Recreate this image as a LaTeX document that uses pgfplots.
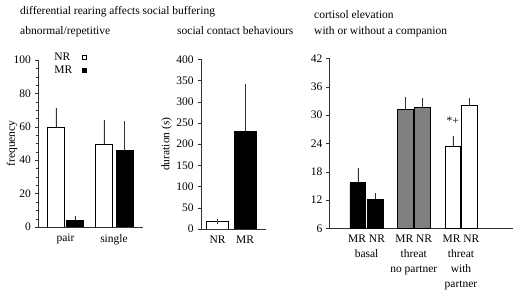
\documentclass[border=0pt]{standalone}
\usepackage{pgfplots}
\pgfplotsset{compat=1.18}
\usepackage{fontspec}
\setmainfont{Liberation Serif}
\begin{document}
\fontsize{11.5}{14}\selectfont
\begin{tikzpicture}[x=1pt,y=1pt]
\path[use as bounding box] (0,0) rectangle (515,292);
\pgfplotsset{
  myax/.style={scale only axis, anchor=south west,
    axis lines=left, axis line style={-, black!80},
    tick align=outside, tick style={black!80},
    major tick length=3pt, minor tick length=1.5pt,
    xtick style={draw=none},
    /pgf/number format/assume math mode=true,
    ticklabel style={font=\fontsize{11.5}{14}\selectfont},
    label style={font=\fontsize{11.5}{14}\selectfont},
  },
  mybar/.style={ybar, bar shift=0pt, draw=black, fill=#1,
    error bars/y dir=plus, error bars/y explicit, error bars/error mark=none,
    error bars/error bar style={black!80}},
}
% ---- panel 1
\begin{axis}[myax, at={(38pt,65pt)}, width=105pt, height=167pt,
  xmin=0, xmax=105, ymin=0, ymax=100,
  ytick={0,20,...,100}, minor y tick num=3,
  xtick={27.5,76}, xticklabels={pair,single},
  ylabel={frequency},
  ylabel style={at={(axis description cs:-0.248,0.5)}, anchor=center},
  legend image code/.code={\draw[#1,draw=black] (0pt,-2pt) rectangle (4pt,2pt);},
  legend plot pos=right,
  legend style={draw=none, fill=none, at={(axis description cs:0.12,1.06)}, anchor=north west,
    nodes={inner sep=0.5pt, font=\fontsize{11.5}{14}\selectfont}, column sep=9pt, row sep=3pt},
  legend cell align=left]
\addplot[mybar=white, bar width=17] coordinates {(18,60) +- (0,11) (66,49.4) +- (0,14.4)};
\addplot[mybar=black, bar width=17] coordinates {(37,4) +- (0,2.3) (86.5,45.8) +- (0,17.7)};
\legend{NR,MR}
\end{axis}
% ---- panel 2
\begin{axis}[myax, at={(200.7pt,63pt)}, width=65pt, height=169.7pt,
  xmin=0, xmax=65, ymin=0, ymax=400,
  ytick={0,50,...,400},
  xtick={16.8,44.3}, xticklabels={NR,MR},
  ylabel={duration (s)},
  ylabel style={at={(axis description cs:-0.526,0.5)}, anchor=center}]
\addplot[mybar=white, bar width=22, error bars/y dir=both] coordinates {(16.8,18) +- (0,6)};
\addplot[mybar=black, bar width=22] coordinates {(44.3,230) +- (0,111)};
\end{axis}
% ---- panel 3
\begin{axis}[myax, at={(329.3pt,63.7pt)}, width=184pt, height=170pt,
  xmin=0, xmax=184, ymin=6, ymax=42,
  ytick={6,12,...,42},
  xtick={37.3,84.5,131.7},
  xticklabels={{MR NR\\basal},{MR NR\\threat\\no partner},{MR NR\\threat\\with\\partner}},
  xticklabel style={align=center, font=\fontsize{11.5}{15}\selectfont}]
\addplot[mybar=black, bar width=15.7] coordinates {(28.5,15.7) +- (0,3.0) (46.2,12.1) +- (0,1.3)};
\addplot[mybar=black!50, bar width=15.7] coordinates {(76,31.2) +- (0,2.5) (92.9,31.55) +- (0,2.0)};
\addplot[mybar=white, bar width=15.7] coordinates {(123.5,23.4) +- (0,2.2) (139.9,32.0) +- (0,1.5)};
\node[font=\fontsize{11.5}{14}\selectfont] at (axis cs:123.5,28.7) {*+};
\end{axis}
% ---- titles
\begin{scope}[every node/.style={inner sep=0pt, anchor=base west}]
\node at (20,277) {differential rearing affects social buffering};
\node at (20,257) {abnormal/repetitive};
\node at (177,257) {social contact behaviours};
\node at (314,273) {cortisol elevation};
\node at (314,257) {with or without a companion};
\end{scope}
\end{tikzpicture}
\end{document}
